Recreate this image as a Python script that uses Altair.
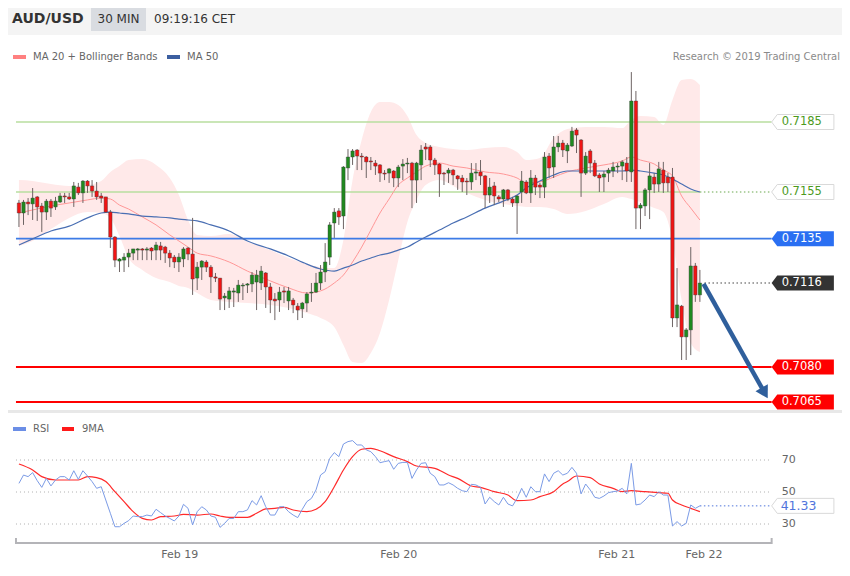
import altair as alt
import pandas as pd

# ---------------- data (30-min AUD/USD candles, index 1..150) ----------------
opens = [0.71503,0.71460,0.71507,0.71499,0.71529,0.71490,0.71464,0.71511,0.71486,0.71507,
         0.71533,0.71529,0.71520,0.71571,0.71546,0.71597,0.71576,0.71554,0.71533,0.71529,
         0.71464,0.71357,0.71254,0.71258,0.71271,0.71288,0.71301,0.71306,0.71301,0.71310,
         0.71301,0.71319,0.71314,0.71288,0.71271,0.71250,0.71263,0.71310,0.71284,0.71181,
         0.71228,0.71250,0.71228,0.71186,0.71181,0.71096,0.71091,0.71121,0.71117,0.71147,
         0.71151,0.71156,0.71164,0.71160,0.71203,0.71143,0.71091,0.71087,0.71126,0.71083,
         0.71087,0.71061,0.71049,0.71074,0.71117,0.71121,0.71160,0.71207,0.71271,0.71417,
         0.71469,0.71447,0.71653,0.71700,0.71730,0.71704,0.71700,0.71683,0.71674,0.71666,
         0.71631,0.71631,0.71640,0.71610,0.71661,0.71670,0.71674,0.71601,0.71666,0.71743,
         0.71743,0.71687,0.71670,0.71631,0.71631,0.71644,0.71619,0.71610,0.71597,0.71593,
         0.71631,0.71636,0.71619,0.71537,0.71576,0.71529,0.71520,0.71559,0.71520,0.71503,
         0.71550,0.71593,0.71546,0.71610,0.71580,0.71571,0.71704,0.71657,0.71743,0.71760,
         0.71726,0.71747,0.71816,0.71773,0.71631,0.71726,0.71674,0.71623,0.71614,0.71631,
         0.71640,0.71657,0.71661,0.71674,0.71636,0.71940,0.71481,0.71490,0.71559,0.71614,
         0.71584,0.71644,0.71614,0.71614,0.71010,0.71061,0.70929,0.70959,0.71233,0.71109]
closes = [0.71460,0.71507,0.71499,0.71524,0.71486,0.71464,0.71511,0.71481,0.71511,0.71533,
          0.71529,0.71520,0.71576,0.71546,0.71597,0.71576,0.71554,0.71529,0.71524,0.71464,
          0.71357,0.71258,0.71263,0.71271,0.71288,0.71306,0.71306,0.71301,0.71306,0.71297,
          0.71323,0.71301,0.71288,0.71267,0.71250,0.71271,0.71306,0.71284,0.71177,0.71228,
          0.71254,0.71228,0.71186,0.71181,0.71091,0.71104,0.71126,0.71126,0.71151,0.71151,
          0.71156,0.71194,0.71194,0.71211,0.71143,0.71087,0.71083,0.71121,0.71121,0.71126,
          0.71066,0.71044,0.71074,0.71113,0.71121,0.71160,0.71207,0.71250,0.71409,0.71464,
          0.71443,0.71657,0.71700,0.71726,0.71704,0.71700,0.71679,0.71679,0.71661,0.71631,
          0.71627,0.71649,0.71610,0.71657,0.71670,0.71674,0.71601,0.71674,0.71730,0.71734,
          0.71687,0.71666,0.71627,0.71627,0.71644,0.71623,0.71606,0.71593,0.71593,0.71631,
          0.71636,0.71619,0.71537,0.71571,0.71533,0.71520,0.71559,0.71520,0.71503,0.71533,
          0.71597,0.71546,0.71610,0.71571,0.71571,0.71700,0.71653,0.71743,0.71760,0.71730,
          0.71751,0.71811,0.71794,0.71631,0.71704,0.71674,0.71619,0.71610,0.71627,0.71644,
          0.71657,0.71661,0.71679,0.71640,0.71940,0.71481,0.71494,0.71559,0.71619,0.71584,
          0.71649,0.71589,0.71589,0.71010,0.71066,0.70929,0.70959,0.71233,0.71109,0.71160]
highs = [0.71516,0.71516,0.71524,0.71567,0.71533,0.71503,0.71520,0.71520,0.71529,0.71546,
         0.71546,0.71546,0.71593,0.71589,0.71601,0.71601,0.71601,0.71593,0.71546,0.71529,
         0.71473,0.71361,0.71267,0.71288,0.71306,0.71306,0.71310,0.71310,0.71314,0.71314,
         0.71336,0.71336,0.71319,0.71301,0.71280,0.71288,0.71314,0.71314,0.71439,0.71250,
         0.71258,0.71258,0.71237,0.71203,0.71181,0.71117,0.71143,0.71139,0.71173,0.71160,
         0.71160,0.71207,0.71216,0.71233,0.71207,0.71160,0.71117,0.71143,0.71143,0.71143,
         0.71096,0.71074,0.71079,0.71121,0.71160,0.71203,0.71237,0.71331,0.71421,0.71481,
         0.71481,0.71661,0.71734,0.71734,0.71734,0.71717,0.71704,0.71700,0.71687,0.71670,
         0.71644,0.71653,0.71644,0.71666,0.71691,0.71696,0.71679,0.71679,0.71751,0.71760,
         0.71751,0.71696,0.71674,0.71636,0.71653,0.71649,0.71623,0.71623,0.71610,0.71674,
         0.71674,0.71687,0.71623,0.71610,0.71593,0.71537,0.71563,0.71563,0.71529,0.71537,
         0.71640,0.71601,0.71644,0.71623,0.71589,0.71721,0.71717,0.71790,0.71790,0.71773,
         0.71760,0.71829,0.71824,0.71777,0.71721,0.71734,0.71687,0.71631,0.71640,0.71653,
         0.71679,0.71674,0.71687,0.71700,0.72064,0.71983,0.71503,0.71567,0.71674,0.71631,
         0.71679,0.71679,0.71631,0.71653,0.71224,0.71066,0.70967,0.71314,0.71246,0.71216]
lows = [0.71400,0.71409,0.71451,0.71430,0.71426,0.71379,0.71430,0.71443,0.71473,0.71503,
        0.71503,0.71516,0.71486,0.71537,0.71503,0.71546,0.71529,0.71516,0.71503,0.71460,
        0.71310,0.71228,0.71207,0.71207,0.71228,0.71258,0.71258,0.71258,0.71258,0.71258,
        0.71258,0.71258,0.71246,0.71228,0.71224,0.71207,0.71228,0.71258,0.71109,0.71130,
        0.71173,0.71207,0.71117,0.71164,0.71044,0.71044,0.71053,0.71057,0.71079,0.71087,
        0.71117,0.71121,0.71044,0.71130,0.71053,0.71031,0.71001,0.71036,0.71074,0.71044,
        0.71031,0.71001,0.71010,0.71036,0.71079,0.71117,0.71130,0.71164,0.71237,0.71353,
        0.71409,0.71391,0.71601,0.71666,0.71644,0.71644,0.71610,0.71644,0.71623,0.71593,
        0.71601,0.71589,0.71571,0.71571,0.71601,0.71631,0.71481,0.71503,0.71601,0.71687,
        0.71657,0.71623,0.71529,0.71580,0.71589,0.71580,0.71559,0.71550,0.71537,0.71559,
        0.71601,0.71580,0.71481,0.71503,0.71494,0.71507,0.71486,0.71511,0.71486,0.71370,
        0.71503,0.71541,0.71503,0.71537,0.71524,0.71524,0.71610,0.71610,0.71721,0.71700,
        0.71674,0.71743,0.71717,0.71529,0.71623,0.71631,0.71614,0.71550,0.71550,0.71593,
        0.71614,0.71631,0.71601,0.71593,0.71593,0.71391,0.71391,0.71447,0.71434,0.71546,
        0.71550,0.71546,0.71550,0.70971,0.70971,0.70830,0.70830,0.70851,0.71079,0.71079]

# Bollinger bands / moving averages, read at these candle indices
band_idx = [1,4,8,12,16,19,21,23,25,28,31,34,36,38,40,43,47,51,56,60,
            64,67,70,72,74,76,78,80,82,84,86,88,90,93,96,99,103,107,110,112,
            115,118,121,125,129,133,135,137,140,142,144,146,148,150]
bb_upper = [0.71601,0.71597,0.71584,0.71576,0.71580,0.71597,0.71636,0.71661,0.71687,0.71691,
            0.71666,0.71610,0.71537,0.71430,0.71366,0.71361,0.71370,0.71336,0.71301,0.71267,
            0.71241,0.71228,0.71224,0.71344,0.71601,0.71773,0.71893,0.71936,0.71936,0.71923,
            0.71876,0.71794,0.71760,0.71743,0.71734,0.71730,0.71739,0.71743,0.71721,0.71687,
            0.71696,0.71781,0.71820,0.71829,0.71829,0.71824,0.71859,0.71876,0.71871,0.71837,
            0.71944,0.72030,0.72034,0.72009]
ma20 = [0.71460,0.71473,0.71490,0.71503,0.71516,0.71524,0.71520,0.71494,0.71477,0.71443,
        0.71409,0.71366,0.71340,0.71314,0.71288,0.71276,0.71250,0.71211,0.71169,0.71139,
        0.71117,0.71126,0.71160,0.71194,0.71250,0.71314,0.71387,0.71460,0.71520,0.71580,
        0.71610,0.71636,0.71661,0.71674,0.71661,0.71653,0.71636,0.71627,0.71610,0.71589,
        0.71593,0.71614,0.71636,0.71653,0.71666,0.71683,0.71700,0.71687,0.71670,0.71644,
        0.71619,0.71533,0.71481,0.71430]
bb_lower = [0.71319,0.71340,0.71391,0.71439,0.71464,0.71460,0.71439,0.71361,0.71267,0.71216,
            0.71181,0.71164,0.71147,0.71139,0.71117,0.71087,0.71079,0.71074,0.71066,0.71053,
            0.71031,0.71010,0.70971,0.70894,0.70821,0.70817,0.70860,0.70946,0.71087,0.71258,
            0.71421,0.71516,0.71580,0.71601,0.71576,0.71546,0.71516,0.71499,0.71490,0.71486,
            0.71486,0.71477,0.71456,0.71469,0.71499,0.71529,0.71520,0.71507,0.71481,0.71464,
            0.71344,0.71087,0.70903,0.70864]
ma50 = [0.71323,0.71349,0.71383,0.71404,0.71439,0.71460,0.71464,0.71460,0.71456,0.71447,
        0.71443,0.71439,0.71434,0.71430,0.71426,0.71409,0.71383,0.71340,0.71306,0.71276,
        0.71241,0.71220,0.71211,0.71224,0.71237,0.71254,0.71267,0.71280,0.71288,0.71301,
        0.71314,0.71336,0.71357,0.71387,0.71417,0.71443,0.71481,0.71511,0.71537,0.71567,
        0.71597,0.71623,0.71640,0.71640,0.71640,0.71640,0.71644,0.71640,0.71631,0.71623,
        0.71606,0.71584,0.71563,0.71550]

# RSI (one value per candle) and its 9-period MA
rsi = [55.4,60.6,59.6,62.1,57.1,52.9,58.5,53.8,57.5,59.6,
       59.6,57.5,63.3,57.9,63.3,60.0,56.5,52.3,53.3,45.0,
       36.7,28.3,28.3,30.4,32.1,35.0,34.6,34.6,35.6,35.0,
       39.2,37.1,35.0,33.5,31.9,35.0,42.3,39.8,29.4,37.7,
       40.8,38.8,35.0,34.2,27.9,30.4,33.5,33.5,37.7,37.7,
       38.8,44.6,41.9,47.7,40.8,35.6,35.6,40.8,40.8,37.7,
       35.6,34.0,39.2,44.0,46.0,51.3,60.6,62.7,71.0,74.6,
       72.1,80.0,81.5,82.1,79.4,79.4,76.3,75.2,72.1,68.3,
       69.0,69.6,64.2,67.9,68.5,68.5,58.5,63.8,67.9,68.3,
       61.7,59.6,54.4,54.4,55.8,54.4,52.3,50.8,50.2,54.8,
       54.4,52.9,42.5,46.7,44.0,41.9,46.7,42.5,41.3,46.0,
       52.3,46.7,53.3,50.2,50.2,61.3,56.5,61.7,63.3,60.6,
       61.7,65.4,61.7,48.8,55.0,51.3,46.7,46.0,47.5,49.6,
       50.2,50.6,52.3,48.8,67.9,41.9,42.5,45.0,48.1,47.1,
       50.2,48.1,48.1,28.75,31.5,28.75,30.4,41.9,39.8,41.33]
ma9_idx = [1,4,6,9,11,14,16,18,20,22,24,26,28,30,32,35,37,40,43,45,
           47,49,51,53,55,57,59,61,64,66,68,70,72,74,76,78,80,83,86,88,
           92,95,97,100,102,105,108,110,113,115,118,120,121,123,126,128,131,133,135,138,
           141,143,144,146,148,150]
ma9 = [67.5,63.75,59.6,57.5,57.5,57.5,59.6,59.0,56.5,50.2,
       44.0,37.7,33.5,32.5,34.6,35.0,36.0,35.6,36.25,35.0,
       34.2,34.2,34.2,36.7,39.4,39.8,40.4,38.75,37.7,39.2,
       44.0,53.3,63.75,72.1,76.7,77.3,75.8,72.1,69.0,66.25,
       64.8,60.6,58.5,53.75,52.9,50.2,48.1,44.6,45.0,47.1,
       50.2,55.0,56.5,60.0,59.0,55.0,52.3,50.2,50.8,50.2,
       49.6,49.2,45.0,41.9,39.8,37.7]

# analyst levels
levels = [0.7185, 0.7155, 0.7135, 0.7116, 0.7080, 0.7065]
level_labels = ["0.7185", "0.7155", "0.7135", "0.7116", "0.7080", "0.7065"]
rsi_grid = [30, 50, 70]
# forecast arrow (candle index, price)
arrow_i = [150.8, 164.18]
arrow_p = [0.71156, 0.706886]
# date ticks (candle index positions)
date_ticks = [36.2, 84.1, 131.8, 150.9]
date_labels = ["Feb 19", "Feb 20", "Feb 21", "Feb 22"]

# ---------------- layout ----------------
W, H = 834, 560
FONT = "DejaVu Sans"
X0, X1 = 0.35, 165.7        # start / end of the level lines & axis (index units)
LAST = 150
xs = alt.Scale(domain=[-0.3, 180.0], nice=False, zero=False)
ps = alt.Scale(domain=[0.699385, 0.723386], nice=False, zero=False)
rs = alt.Scale(domain=[2.5, 352.5], nice=False, zero=False)
TAG = "M0,0 L0.75,-1 L8.3,-1 L8.3,1 L0.75,1 Z"

cdf = pd.DataFrame({"i": list(range(1, len(opens) + 1)), "open": opens, "close": closes,
                    "high": highs, "low": lows})
cdf["dir"] = ["up" if c > o else ("down" if c < o else "flat") for o, c in zip(opens, closes)]
bdf = pd.DataFrame({"i": band_idx, "upper": bb_upper, "lower": bb_lower, "ma20": ma20, "ma50": ma50})
rdf = pd.DataFrame({"i": list(range(1, len(rsi) + 1)), "rsi": rsi})
mdf = pd.DataFrame({"i": ma9_idx, "ma9": ma9})
one = pd.DataFrame({"a": [0]})

X = lambda f: alt.X(f, type="quantitative", scale=xs, axis=None)
YP = lambda f: alt.Y(f, type="quantitative", scale=ps, axis=None)
YR = lambda f: alt.Y(f, type="quantitative", scale=rs, axis=None)

band = alt.Chart(bdf).mark_area(color="#ffe9e9", interpolate="monotone").encode(
    x=X("i"), y=YP("upper"), y2="lower")
l20 = alt.Chart(bdf).mark_line(color="#ff9797", strokeWidth=1, interpolate="monotone").encode(
    x=X("i"), y=YP("ma20"))
l50 = alt.Chart(bdf).mark_line(color="#4a6fb3", strokeWidth=1.2, interpolate="monotone").encode(
    x=X("i"), y=YP("ma50"))


def hline(k, color, width, start=X0, end=X1, dash=None):
    kw = dict(color=color, strokeWidth=width)
    if dash:
        kw["strokeDash"] = dash
    return alt.Chart(pd.DataFrame({"level": [levels[k]]})).mark_rule(**kw).encode(
        x=alt.X(datum=start, scale=xs, axis=None), x2=alt.X2(datum=end), y=YP("level"))


def tag(k, fill, text_color, stroke=None):
    d = pd.DataFrame({"level": [levels[k]], "label": [level_labels[k]]})
    kw = dict(shape=TAG, size=225, filled=True, fill=fill, opacity=1)
    if stroke:
        kw.update(stroke=stroke, strokeWidth=1)
    else:
        kw.update(strokeWidth=0)
    s = alt.Chart(d).mark_point(**kw).encode(x=alt.X(datum=X1, scale=xs, axis=None), y=YP("level"))
    t = alt.Chart(d).mark_text(align="left", baseline="middle", dx=10, font=FONT, fontSize=11.5,
                               color=text_color).encode(
        x=alt.X(datum=X1, scale=xs, axis=None), y=YP("level"), text="label:N")
    return s + t


level_layers = [
    hline(0, "#b9de9f", 1.5),
    hline(1, "#b9de9f", 1.5, end=LAST),
    hline(1, "#6aa84f", 1.2, start=LAST, dash=[1.5, 2.5]),
    hline(2, "#3d7be6", 1.6),
    hline(3, "#444444", 1.2, start=LAST + 1, dash=[1.5, 2.5]),
    hline(4, "#ff0000", 2),
    hline(5, "#ff0000", 2),
]

wicks = alt.Chart(cdf).mark_rule(color="#6e6464", strokeWidth=1).encode(
    x=X("i"), y=YP("low"), y2="high")
bodies = alt.Chart(cdf).mark_bar(width=3.4, stroke="#3a3a3a", strokeWidth=0.4).encode(
    x=X("i"), y=YP("open"), y2="close",
    color=alt.Color("dir:N", scale=alt.Scale(domain=["up", "down", "flat"],
                                             range=["#1f8a1f", "#f01414", "#444444"]), legend=None))

adf = pd.DataFrame({"i": arrow_i, "p": arrow_p})
arrow_line = alt.Chart(adf).mark_line(color="#2f5f9c", strokeWidth=4.5).encode(x=X("i"), y=YP("p"))
arrow_head = alt.Chart(adf.tail(1)).mark_point(shape="triangle-up", size=200, filled=True,
                                               color="#2f5f9c", opacity=1, angle=150.5).encode(
    x=X("i"), y=YP("p"))

tags = [tag(0, "white", "#4c9a1c", "#d9d9d9"), tag(1, "white", "#4c9a1c", "#d9d9d9"),
        tag(2, "#2a6ff2", "white"), tag(3, "#333333", "white"),
        tag(4, "#ff0000", "white"), tag(5, "#ff0000", "white")]

price = alt.layer(band, *level_layers, l20, l50, wicks, bodies, arrow_line, arrow_head, *tags)

# ---------------- RSI panel ----------------
gdf = pd.DataFrame({"g": rsi_grid, "label": [str(g) for g in rsi_grid]})
grid = alt.Chart(gdf).mark_rule(color="#b0b0b0", strokeWidth=1, strokeDash=[1, 3]).encode(
    x=alt.X(datum=X0, scale=xs, axis=None), x2=alt.X2(datum=X1), y=YR("g"))
grid_lbl = alt.Chart(gdf).mark_text(align="left", baseline="middle", dx=10, font=FONT,
                                    fontSize=11, color="#666666").encode(
    x=alt.X(datum=X1, scale=xs, axis=None), y=YR("g"), text="label:N")
rsi_line = alt.Chart(rdf).mark_line(color="#7b9be6", strokeWidth=1).encode(x=X("i"), y=YR("rsi"))
ma9_line = alt.Chart(mdf).mark_line(color="#ff2a2a", strokeWidth=1.2, interpolate="monotone").encode(
    x=X("i"), y=YR("ma9"))
last = pd.DataFrame({"v": [rsi[-1]], "label": [f"{rsi[-1]:.2f}"]})
rsi_dot = alt.Chart(last).mark_rule(color="#4f74dc", strokeWidth=1, strokeDash=[1.5, 2.5]).encode(
    x=alt.X(datum=LAST, scale=xs, axis=None), x2=alt.X2(datum=X1), y=YR("v"))
rsi_tag = alt.Chart(last).mark_point(shape=TAG, size=225, filled=True, fill="white", opacity=1,
                                     stroke="#d9d9d9", strokeWidth=1).encode(
    x=alt.X(datum=X1, scale=xs, axis=None), y=YR("v"))
rsi_txt = alt.Chart(last).mark_text(align="left", baseline="middle", dx=9, font=FONT, fontSize=12.5,
                                    color="#4f74dc").encode(
    x=alt.X(datum=X1, scale=xs, axis=None), y=YR("v"), text="label:N")

tdf = pd.DataFrame({"t": date_ticks, "label": date_labels})
xaxis = alt.Chart(one).mark_rule(color="#b4b4b8", strokeWidth=2).encode(
    x=alt.X(datum=X0, scale=xs, axis=None), x2=alt.X2(datum=X1), y=alt.value(535))
xend0 = alt.Chart(one).mark_rule(color="#b4b4b8", strokeWidth=2).encode(
    x=alt.X(datum=X0, scale=xs, axis=None), y=alt.value(530), y2=alt.value(536))
xend1 = alt.Chart(one).mark_rule(color="#b4b4b8", strokeWidth=2).encode(
    x=alt.X(datum=X1, scale=xs, axis=None), y=alt.value(530), y2=alt.value(536))
xlbl = alt.Chart(tdf).mark_text(align="center", baseline="middle", font=FONT, fontSize=11,
                                color="#666666").encode(x=X("t"), y=alt.value(547), text="label:N")

rsi_panel = alt.layer(grid, grid_lbl, ma9_line, rsi_line, rsi_dot, rsi_tag, rsi_txt,
                      xaxis, xend0, xend1, xlbl)

# ---------------- decorations (header, legends, separators) ----------------
def rect(x0, x1, y0, y1, color):
    return alt.Chart(one).mark_rect(color=color).encode(
        x=alt.value(x0), x2=alt.value(x1), y=alt.value(y0), y2=alt.value(y1))


def label(txt, x, y, size, color, align="left", weight="normal"):
    return alt.Chart(one).mark_text(text=txt, align=align, baseline="middle", font=FONT,
                                    fontSize=size, color=color, fontWeight=weight).encode(
        x=alt.value(x), y=alt.value(y))


deco = alt.layer(
    rect(0, W, 0, 27, "#f4f4f4"),
    rect(83, 138, 0, 23, "#d9dce1"),
    label("AUD/USD", 4, 11, 14, "#333333", weight="bold"),
    label("30 MIN", 110.5, 11, 12, "#333333", align="center"),
    label("09:19:16 CET", 146, 11, 12, "#333333"),
    rect(5, 18, 47, 51, "#ff8080"),
    label("MA 20 + Bollinger Bands", 25, 49, 10, "#666666"),
    rect(159, 172, 47, 51, "#3c5fa0"),
    label("MA 50", 179, 49, 10, "#666666"),
    label("Research \u00a9 2019 Trading Central", 832, 49, 10, "#8a8a8a", align="right"),
    rect(0, W, 402, 405, "#e8e8e8"),
    rect(5, 18, 419, 423, "#6b8ee6"),
    label("RSI", 25, 421, 10, "#666666"),
    rect(54, 66, 419, 423, "#ff1a1a"),
    label("9MA", 74, 421, 10, "#666666"),
)

chart = alt.layer(deco, price, rsi_panel).resolve_scale(y="independent").properties(
    width=W, height=H, padding=0, background="white"
).configure_view(stroke=None)

chart.save("out.html", embed_options={"renderer": "svg", "actions": False})
